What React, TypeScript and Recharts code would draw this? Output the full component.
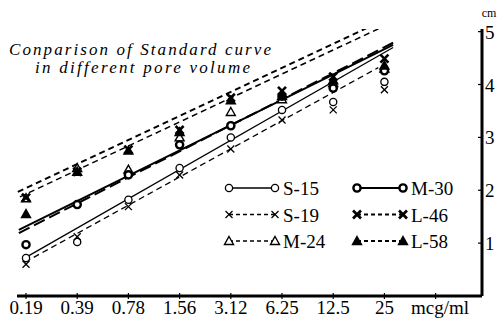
import React from "react";
import { ComposedChart, Line, Scatter, XAxis, YAxis } from "recharts";

// ---- data ----
const categories = ["0.19", "0.39", "0.78", "1.56", "3.12", "6.25", "12.5", "25", ""];
const yTicks = [1, 2, 3, 4, 5];

const s15 = [0.72, 1.02, 1.82, 2.42, 3.0, 3.52, 3.67, 4.05];
const s19 = [0.6, 1.12, 1.69, 2.29, 2.78, 3.33, 3.52, 3.9];
const m24 = [1.85, 2.42, 2.39, 3.0, 3.48, 3.72, 4.03, 4.3];
const m30 = [0.97, 1.73, 2.29, 2.86, 3.22, 3.78, 3.93, 4.26];
const l46 = [1.86, 2.35, 2.77, 3.14, 3.75, 3.88, 4.15, 4.49];
const l58 = [1.55, 2.35, 2.75, 3.1, 3.7, 3.78, 4.08, 4.36];

// fitted standard-curve lines: [x index, value] at both ends
const s15Fit = [[-0.02, 0.72], [7.17, 4.7]];
const s19Fit = [[-0.02, 0.64], [6.88, 4.32]];
const m24Fit = [[-0.12, 1.875], [7.05, 5.13]];
const m30Fit = [[-0.14, 1.25], [7.17, 4.75]];
const l46Fit = [[-0.16, 1.97], [7.01, 5.23]];
const l58Fit = [[-0.14, 1.19], [7.17, 4.79]];

const FONT = "Liberation Serif, Times New Roman, serif";

const toPts = (vals: number[]) => vals.map((y, x) => ({ x, y }));
const toFit = (f: number[][]) => f.map(([x, y]) => ({ x, y }));

type MarkerKind = "circle" | "x" | "tri" | "boldCircle" | "boldX" | "fillTri";

function Marker({ kind, cx, cy }: { kind: MarkerKind; cx: number; cy: number }) {
  switch (kind) {
    case "circle":
      return <circle cx={cx} cy={cy} r={3.6} fill="#fff" stroke="#000" strokeWidth={1.3} />;
    case "boldCircle":
      return <circle cx={cx} cy={cy} r={3.6} fill="#fff" stroke="#000" strokeWidth={2.4} />;
    case "x":
      return (
        <g stroke="#000" strokeWidth={1.3}>
          <line x1={cx - 3.5} y1={cy - 3.5} x2={cx + 3.5} y2={cy + 3.5} />
          <line x1={cx - 3.5} y1={cy + 3.5} x2={cx + 3.5} y2={cy - 3.5} />
        </g>
      );
    case "boldX":
      return (
        <g stroke="#000" strokeWidth={2.6}>
          <line x1={cx - 4} y1={cy - 4} x2={cx + 4} y2={cy + 4} />
          <line x1={cx - 4} y1={cy + 4} x2={cx + 4} y2={cy - 4} />
        </g>
      );
    case "tri":
      return (
        <polygon
          points={`${cx},${cy - 4.5} ${cx + 4.5},${cy + 3.5} ${cx - 4.5},${cy + 3.5}`}
          fill="#fff"
          stroke="#000"
          strokeWidth={1.4}
        />
      );
    case "fillTri":
      return (
        <polygon
          points={`${cx},${cy - 4.5} ${cx + 4.5},${cy + 3.5} ${cx - 4.5},${cy + 3.5}`}
          fill="#000"
          stroke="#000"
          strokeWidth={1.4}
        />
      );
  }
  return null;
}

const series = [
  { name: "S-15", pts: s15, fit: s15Fit, marker: "circle" as MarkerKind, dash: undefined, w: 1.3 },
  { name: "S-19", pts: s19, fit: s19Fit, marker: "x" as MarkerKind, dash: "6 4", w: 1.3 },
  { name: "M-24", pts: m24, fit: m24Fit, marker: "tri" as MarkerKind, dash: "6 4", w: 1.5 },
  { name: "M-30", pts: m30, fit: m30Fit, marker: "boldCircle" as MarkerKind, dash: undefined, w: 2 },
  { name: "L-46", pts: l46, fit: l46Fit, marker: "boldX" as MarkerKind, dash: "6 4", w: 2 },
  { name: "L-58", pts: l58, fit: l58Fit, marker: "fillTri" as MarkerKind, dash: "12 5", w: 2 },
];

const AXIS_Y = 296;
const AXIS_X = 482;

function XTick(props: any) {
  const { x, payload } = props;
  const label = categories[payload.value] ?? "";
  return (
    <g>
      <line x1={x} x2={x} y1={AXIS_Y - 3} y2={AXIS_Y + 3} stroke="#000" strokeWidth={1.2} />
      <text x={x} y={314} textAnchor="middle" fontFamily={FONT} fontSize={19} fill="#000">
        {label}
      </text>
    </g>
  );
}

function YTick(props: any) {
  const { y, payload } = props;
  return (
    <g>
      <line x1={AXIS_X - 4} x2={AXIS_X} y1={y} y2={y} stroke="#000" strokeWidth={1.2} />
      <text x={485} y={y + 7} textAnchor="start" fontFamily={FONT} fontSize={19} fill="#000">
        {payload.value}
      </text>
    </g>
  );
}

const legendRows = [
  [series[0], series[3]],
  [series[1], series[4]],
  [series[2], series[5]],
];

export default function App() {
  return (
    <div style={{ position: "absolute", left: 0, top: 0, width: 500, height: 320, background: "#fff" }}>
      <ComposedChart width={500} height={320} margin={{ top: 29, right: 0, bottom: 0, left: 17 }}>
        <XAxis
          type="number"
          dataKey="x"
          domain={[-0.176, 8.906]}
          ticks={[0, 1, 2, 3, 4, 5, 6, 7, 8]}
          allowDataOverflow
          height={24}
          axisLine={{ stroke: "#000", strokeWidth: 3 }}
          tickLine={false}
          tick={<XTick />}
          interval={0}
        />
        <YAxis
          type="number"
          dataKey="y"
          orientation="right"
          domain={[0, 5.05]}
          ticks={yTicks}
          allowDataOverflow
          width={18}
          axisLine={{ stroke: "#000", strokeWidth: 3 }}
          tickLine={false}
          tick={<YTick />}
          interval={0}
        />
        {series.map((s) => (
          <Line
            key={s.name + "-fit"}
            data={toFit(s.fit)}
            dataKey="y"
            type="linear"
            stroke="#000"
            strokeWidth={s.w}
            strokeDasharray={s.dash}
            dot={false}
            activeDot={false}
            isAnimationActive={false}
          />
        ))}
        {series.map((s) => (
          <Scatter
            key={s.name + "-pts"}
            data={toPts(s.pts)}
            dataKey="y"
            isAnimationActive={false}
            shape={(p: any) => <Marker kind={s.marker} cx={p.cx} cy={p.cy} />}
          />
        ))}
      </ComposedChart>
      <svg width={500} height={320} style={{ position: "absolute", left: 0, top: 0, pointerEvents: "none" }}>
        <text x={9} y={55} fontFamily={FONT} fontStyle="italic" fontSize={17} textLength={262} lengthAdjust="spacing">
          Conparison of Standard curve
        </text>
        <text x={35} y={73} fontFamily={FONT} fontStyle="italic" fontSize={17} textLength={215} lengthAdjust="spacing">
          in different pore volume
        </text>
        <text x={489} y={17} textAnchor="middle" fontFamily={FONT} fontSize={12}>
          cm
        </text>
        <text x={440} y={314} textAnchor="middle" fontFamily={FONT} fontSize={19}>
          mcg/ml
        </text>
        {legendRows.map((row, ri) =>
          row.map((s, ci) => {
            const y = 188 + ri * 26.5;
            const x0 = ci === 0 ? 229 : 357;
            const x1 = ci === 0 ? 275 : 403;
            return (
              <g key={s.name}>
                <line x1={x0} x2={x1} y1={y} y2={y} stroke="#000" strokeWidth={s.w} strokeDasharray={s.dash ? "4 3" : undefined} />
                <Marker kind={s.marker} cx={x0} cy={y} />
                <Marker kind={s.marker} cx={x1} cy={y} />
                <text x={x1 + 8} y={y + 7} fontFamily={FONT} fontSize={19}>
                  {s.name}
                </text>
              </g>
            );
          })
        )}
      </svg>
    </div>
  );
}
